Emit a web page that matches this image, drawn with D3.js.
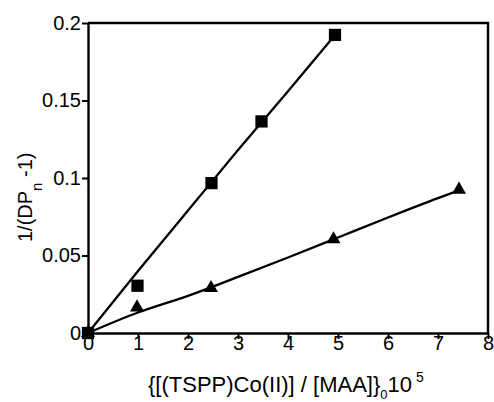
<!DOCTYPE html>
<html>
<head>
<meta charset="utf-8">
<script src="https://cdn.jsdelivr.net/npm/d3@7"></script>
<style>
  html, body { margin: 0; padding: 0; background: #fff; }
  svg text { font-family: "Liberation Sans", Arial, Helvetica, sans-serif; fill: #000; }
</style>
</head>
<body>
<svg id="chart" width="494" height="402"></svg>
<script>
// Measured points, square series
const squareX = [0, 0.99, 2.47, 3.47, 4.94];
const squareY = [0, 0.0305, 0.0967, 0.1365, 0.1923];
// Measured points, triangle series
const triangleX = [0, 0.98, 2.46, 4.91, 7.42];
const triangleY = [0, 0.0165, 0.0290, 0.0605, 0.0925];
// Fitted curves
const squareFitX = [0, 1, 2, 3, 4, 4.94];
const squareFitY = [0, 0.0400, 0.0790, 0.1180, 0.1560, 0.1923];
const triangleFitX = [0, 1, 2, 3, 4, 5, 6, 7, 7.42];
const triangleFitY = [0, 0.0132, 0.0240, 0.0362, 0.0487, 0.0616, 0.0745, 0.0870, 0.0920];
// Axis ticks
const xTicks = [0, 1, 2, 3, 4, 5, 6, 7, 8];
const yTicks = [0, 0.05, 0.1, 0.15, 0.2];
const yTickLabels = ["0", "0.05", "0.1", "0.15", "0.2"];

const svg = d3.select("#chart");
const x = d3.scaleLinear().domain([0, 8]).range([88, 488]);
const y = d3.scaleLinear().domain([0, 0.2]).range([333, 23]);

const zip = (xs, ys) => xs.map((v, i) => [v, ys[i]]);

// Frame: top and right edges
svg.append("path")
  .attr("d", `M${x(0)},${y(0.2)}H${x(8)}V${y(0)}`)
  .attr("fill", "none").attr("stroke", "#000").attr("stroke-width", 2.4);

// Axes
const xAxis = svg.append("g")
  .attr("transform", `translate(0,${y(0)})`)
  .call(d3.axisBottom(x).tickValues(xTicks).tickFormat(d3.format("d"))
    .tickSize(6).tickSizeOuter(0).tickPadding(-3));
const yAxis = svg.append("g")
  .attr("transform", `translate(${x(0)},0)`)
  .call(d3.axisLeft(y).tickValues(yTicks).tickFormat((d, i) => yTickLabels[i])
    .tickSize(6).tickSizeOuter(0).tickPadding(1));
[xAxis, yAxis].forEach(g => {
  g.select(".domain").attr("stroke-width", 2.4);
  g.selectAll(".tick line").attr("stroke-width", 2);
  g.selectAll(".tick text").style("font-size", "20px")
    .style("font-family", "'Liberation Sans', Arial, sans-serif");
});

// Fitted curves
const line = d3.line().x(d => x(d[0])).y(d => y(d[1])).curve(d3.curveMonotoneX);
[zip(squareFitX, squareFitY), zip(triangleFitX, triangleFitY)].forEach(pts => {
  svg.append("path").attr("d", line(pts))
    .attr("fill", "none").attr("stroke", "#000").attr("stroke-width", 2.3);
});

// Markers
svg.selectAll(".tri").data(zip(triangleX, triangleY)).enter().append("path")
  .attr("class", "tri")
  .attr("transform", d => `translate(${x(d[0])},${y(d[1])})`)
  .attr("d", d3.symbol(d3.symbolTriangle, 85))
  .attr("fill", "#000");
svg.selectAll(".sq").data(zip(squareX, squareY)).enter().append("path")
  .attr("class", "sq")
  .attr("transform", d => `translate(${x(d[0])},${y(d[1])})`)
  .attr("d", d3.symbol(d3.symbolSquare, 150))
  .attr("fill", "#000");

// X axis title
const xt = svg.append("text").attr("x", 148).attr("y", 392).style("font-size", "22px");
xt.append("tspan").text("{[(TSPP)Co(II)] / [MAA]}");
xt.append("tspan").attr("dy", 7).style("font-size", "13px").text("0");
xt.append("tspan").attr("dy", -7).text("10");
xt.append("tspan").attr("dx", 4).attr("dy", -10).style("font-size", "14px").text("5");

// Y axis title
const yt = svg.append("text")
  .attr("transform", "translate(32,242) rotate(-90)")
  .style("font-size", "20px");
yt.append("tspan").text("1/(DP");
yt.append("tspan").attr("dy", 10).style("font-size", "15px").text("n");
yt.append("tspan").attr("dy", -10).text(" -1)");
</script>
</body>
</html>
